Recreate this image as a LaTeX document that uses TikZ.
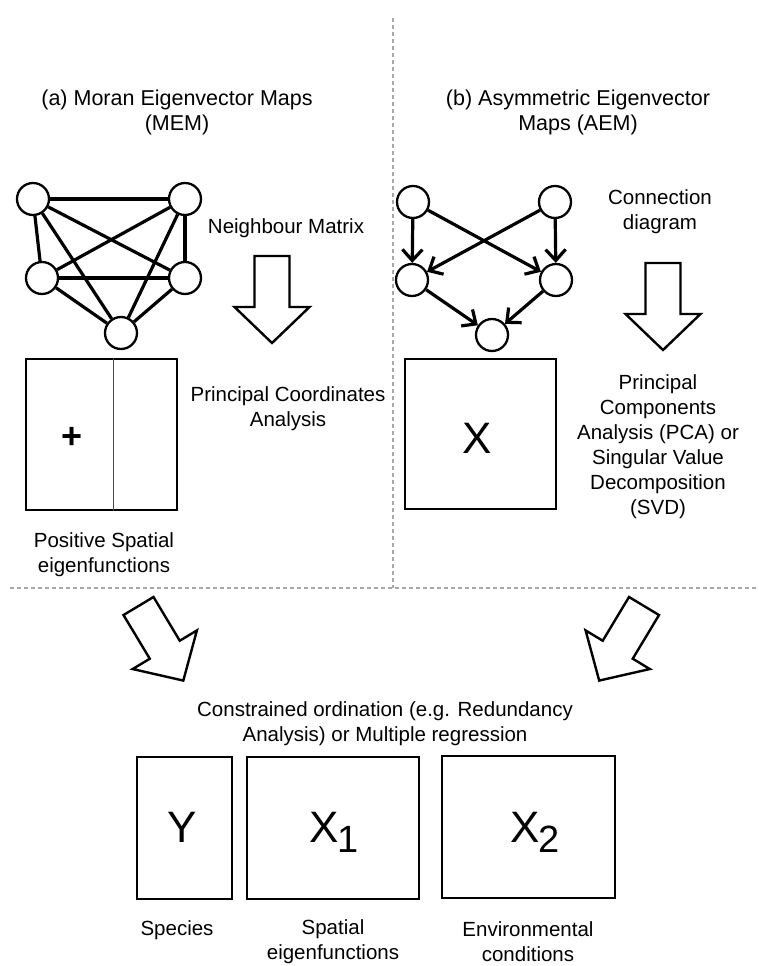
\documentclass[tikz,border=0pt]{standalone}
\usepackage{fontspec}
\setmainfont{Liberation Sans}
\usetikzlibrary{arrows.meta,calc}
\definecolor{sepGray}{HTML}{A8A8A8}
\tikzset{
  pics/blockarrow/.style={code={
    \draw[line width=2.4pt,line join=miter,fill=white] (-17.5,0) -- (17.5,0) -- (17.5,51) -- (37.5,51) -- (0,87) -- (-37.5,51) -- (-17.5,51) -- cycle;
  }}
}
\begin{document}
\begin{tikzpicture}[x=1pt,y=-1pt,font=\fontsize{20.5}{25}\selectfont,
  vtx/.style={draw,circle,line width=2.3pt,minimum size=32pt,inner sep=0pt,fill=white},
  lnk/.style={line width=3.2pt},
  dlnk/.style={line width=3.2pt,-{Straight Barb[length=11pt,width=20pt]}},
  box/.style={draw,line width=2.8pt,inner sep=0pt},
  big/.style={font=\fontsize{44}{44}\selectfont,inner sep=0pt,anchor=base},
  txt/.style={align=center,inner sep=0pt},
  sep/.style={draw=sepGray,line width=1.2pt,dash pattern=on 4pt off 3pt}]
\useasboundingbox (0,0) rectangle (758,966);
% separators
\coordinate (dvTop) at (393,18);
\coordinate (dvBot) at (393,588);
\coordinate (dhL) at (10,588);
\coordinate (dhR) at (758,588);
\draw[sep] (dvTop) -- (dvBot);
\draw[sep] (dhL) -- (dhR);
% (a) MEM
\node[txt,font=\fontsize{21.5}{25}\selectfont] (titleA) at (177,112) {(a) Moran Eigenvector Maps\\(MEM)};
\node[vtx] (m1) at (33,199) {};
\node[vtx] (m2) at (185,199) {};
\node[vtx] (m3) at (42,278) {};
\node[vtx] (m4) at (185,278) {};
\node[vtx] (m5) at (121,333) {};
\foreach \a/\b in {m1/m2,m1/m3,m1/m4,m1/m5,m2/m3,m2/m4,m2/m5,m3/m4,m3/m5,m4/m5}
  \draw[lnk] (\a) -- (\b);
\node[txt] (nmLabel) at (286,228) {Neighbour Matrix};
\pic at (272,256) {blockarrow};
\node[box,minimum width=151pt,minimum height=151pt] (posBox) at (101.5,434.5) {};
\draw[line width=1.2pt,black!70] ($(posBox.north west)!0.576!(posBox.north east)$) -- ($(posBox.south west)!0.576!(posBox.south east)$);
\node[font=\fontsize{36}{36}\selectfont\bfseries] (plus) at (72,438) {+};
\node[txt] (pcoaLabel) at (288,409) {Principal Coordinates\\Analysis};
\node[txt] (posLabel) at (104,555) {Positive Spatial\\eigenfunctions};
% (b) AEM
\node[txt,font=\fontsize{21.5}{25}\selectfont] (titleB) at (578,112) {(b) Asymmetric Eigenvector\\Maps (AEM)};
\node[vtx] (a1) at (413,202) {};
\node[vtx] (a2) at (555,202) {};
\node[vtx] (a3) at (412,280) {};
\node[vtx] (a4) at (556,280) {};
\node[vtx] (a5) at (492,335) {};
\foreach \a/\b in {a1/a3,a1/a4,a2/a3,a2/a4,a3/a5,a4/a5}
  \draw[dlnk] (\a) -- (\b);
\node[txt] (cdLabel) at (660,212) {Connection\\diagram};
\pic at (663,263) {blockarrow};
\node[box,minimum width=151pt,minimum height=150pt] (xBox) at (480.5,434) {};
\node[big] (xText) at (477.5,453) {X};
\node[txt] (pcaLabel) at (658,447) {Principal\\Components\\Analysis (PCA) or\\Singular Value\\Decomposition\\(SVD)};
% combined analysis
\pic[rotate=31] at (138.5,606) {blockarrow};
\pic[rotate=-31] at (644,606) {blockarrow};
\node[txt] (crLabel) at (385,724) {Constrained ordination (e.g. Redundancy\\Analysis) or Multiple regression};
\node[box,minimum width=95pt,minimum height=142pt] (yBox) at (184.5,828) {};
\node[box,minimum width=172pt,minimum height=142pt] (x1Box) at (333,828) {};
\node[box,minimum width=173pt,minimum height=142pt] (x2Box) at (528.5,827) {};
\node[big] (yText) at (182,842) {Y};
\node[big] (x1Text) at (334,842) {X\kern-2pt\raisebox{-10pt}{\fontsize{38}{38}\selectfont 1}};
\node[big] (x2Text) at (535,842) {X\kern-2pt\raisebox{-10pt}{\fontsize{38}{38}\selectfont 2}};
\node[txt] (spLabel) at (177,930) {Species};
\node[txt] (seLabel) at (333,941.5) {Spatial\\eigenfunctions};
\node[txt] (ecLabel) at (528,941.5) {Environmental\\conditions};
\end{tikzpicture}
\end{document}
